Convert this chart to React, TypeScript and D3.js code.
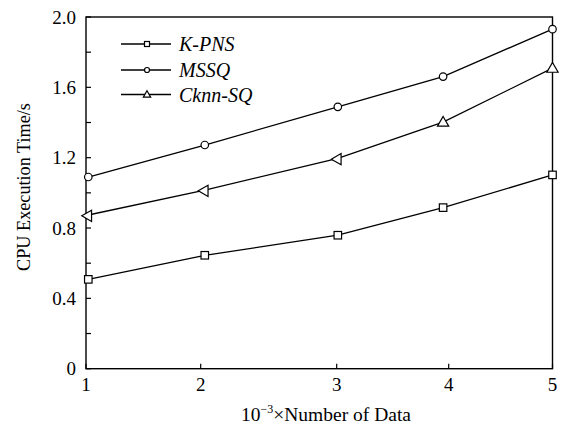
import React from "react";
import * as d3 from "d3";

const xTicks = [1, 2, 3, 4, 5];
const xData = [1.02, 2.03, 3.01, 3.95, 5];
const yTicksMajor = [0, 0.4, 0.8, 1.2, 1.6, 2.0];
const yTicksMinor = [0.2, 0.6, 1.0, 1.4, 1.8];
const kpns = [0.508, 0.645, 0.759, 0.916, 1.102];
const mssq = [1.09, 1.272, 1.489, 1.661, 1.931];
const cknn = [0.874, 1.016, 1.196, 1.402, 1.709];
const seriesNames = ["K-PNS", "MSSQ", "Cknn-SQ"];
const seriesMarkers = ["square", "circle", "triangle"];
// triangle marker rotations as seen in the reference (style only)
const triRot = [-90, -90, -90, 0, 0];

const W = 570;
const H = 430;
const left = 86;
const right = 552.5;
const top = 17;
const bottom = 368.7;
const FONT = "Liberation Serif";

function Marker({ type, x, y, s, rot = 0 }: { type: string; x: number; y: number; s: number; rot?: number }) {
  const common = { fill: "white", stroke: "black", strokeWidth: 1.2 };
  if (type === "square") {
    return <rect x={x - s / 2} y={y - s / 2} width={s} height={s} {...common} />;
  }
  if (type === "circle") {
    return <circle cx={x} cy={y} r={s / 2} {...common} />;
  }
  const sym = d3.symbol(d3.symbolTriangle, s * s * 0.55)();
  return <path d={sym as string} transform={`translate(${x},${y + s * 0.08}) rotate(${rot})`} {...common} />;
}

export default function App() {
  const x = d3.scaleLinear().domain(xTicks).range([left, 200.7, 336.7, 448.7, right]);
  const y = d3.scaleLinear().domain([0, 2]).range([bottom, top]);
  const line = d3
    .line<number>()
    .x((_, i) => x(xData[i]))
    .y((d) => y(d));
  const series = [kpns, mssq, cknn];
  const legendY = [44, 70, 94.5];
  const tStyle = { fontFamily: FONT };

  return (
    <svg width={W} height={H} style={{ position: "absolute", left: 0, top: 0, background: "white" }}>
      <rect x={0} y={0} width={W} height={H} fill="white" />
      <rect x={left} y={top} width={right - left} height={bottom - top} fill="none" stroke="black" strokeWidth={1.4} />
      {yTicksMajor.concat(yTicksMinor).map((t) => (
        <line key={"yt" + t} x1={left} x2={left + 5} y1={y(t)} y2={y(t)} stroke="black" strokeWidth={1.2} />
      ))}
      {yTicksMajor.map((t) => (
        <text key={"yl" + t} x={left - 10} y={y(t)} dy="0.35em" textAnchor="end" style={tStyle} fontSize={19}>
          {t === 0 ? "0" : t.toFixed(1)}
        </text>
      ))}
      {xTicks.map((t) => (
        <g key={"xt" + t}>
          <line x1={x(t)} x2={x(t)} y1={bottom} y2={bottom - 5} stroke="black" strokeWidth={1.2} />
          <text x={x(t)} y={bottom + 22} textAnchor="middle" style={tStyle} fontSize={19}>
            {t}
          </text>
        </g>
      ))}
      <text x={326} y={421} textAnchor="middle" style={tStyle} fontSize={19.5}>
        10
        <tspan dy={-8} fontSize={12}>−3</tspan>
        <tspan dy={8}>×Number of Data</tspan>
      </text>
      <text
        transform={`translate(30,187) rotate(-90)`}
        textAnchor="middle"
        style={tStyle}
        fontSize={18.2}
      >
        CPU Execution Time/s
      </text>
      {series.map((s, si) => (
        <g key={"s" + si}>
          <path d={line(s) as string} fill="none" stroke="black" strokeWidth={1.3} />
          {s.map((v, i) => (
            <Marker
              key={i}
              type={seriesMarkers[si]}
              x={x(xData[i])}
              y={y(v)}
              s={seriesMarkers[si] === "triangle" ? 10 : 7.5}
              rot={seriesMarkers[si] === "triangle" ? triRot[i] : 0}
            />
          ))}
        </g>
      ))}
      {seriesNames.map((n, i) => (
        <g key={"lg" + i}>
          <line x1={121} x2={171} y1={legendY[i]} y2={legendY[i]} stroke="black" strokeWidth={1.3} />
          <Marker type={seriesMarkers[i]} x={147} y={legendY[i]} s={seriesMarkers[i] === "triangle" ? 6.5 : 5} />
          <text x={179} y={legendY[i]} dy="0.35em" style={tStyle} fontStyle="italic" fontSize={20}>
            {n}
          </text>
        </g>
      ))}
    </svg>
  );
}
